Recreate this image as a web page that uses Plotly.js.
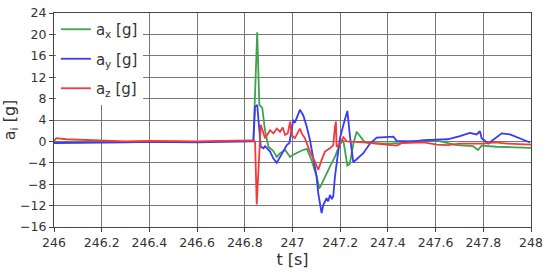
<!DOCTYPE html>
<html>
<head>
<meta charset="utf-8">
<script src="https://cdn.plot.ly/plotly-3.0.1.min.js"></script>
<style>
  html, body { margin: 0; padding: 0; background: #fff; }
  #chart { width: 550px; height: 276px; }
</style>
</head>
<body>
<div id="chart"></div>
<script>
// acceleration components, time in seconds
const tX = [246.0, 246.1, 246.2, 246.3, 246.4, 246.5, 246.6, 246.7, 246.8, 246.836, 246.852, 246.861, 246.873,
    246.885, 246.899, 246.920, 246.934, 246.948, 246.969, 246.990, 247.003, 247.024, 247.039, 247.060, 247.080,
    247.101, 247.112, 247.122, 247.136, 247.157, 247.178, 247.199, 247.213, 247.230, 247.240, 247.255, 247.269,
    247.285, 247.300, 247.325, 247.40, 247.45, 247.50, 247.577, 247.62, 247.688, 247.757, 247.778, 247.793,
    247.856, 247.95, 248.0];
const aX = [-0.2, -0.2, -0.1, -0.1, 0, -0.1, -0.1, 0, 0, 0.1, 20.4, 6.8, 6.3,
    2.0, -1.0, -1.8, -2.9, -2.2, -1.6, -2.9, -2.5, -2.0, -1.7, -1.4, -3.5,
    -6.5, -8.8, -8.0, -6.6, -4.7, -2.9, -0.5, 0.2, -4.5, -4.2, -0.5, 1.8,
    0.8, 0, -0.3, -0.4, -0.3, 0, 0.3, 0, -0.7, -0.9, -1.6, -0.8,
    -1.0, -1.1, -1.2];

const tY = [246.0, 246.1, 246.2, 246.3, 246.4, 246.5, 246.6, 246.7, 246.8, 246.836, 246.843, 246.852, 246.867,
    246.878, 246.885, 246.906, 246.920, 246.934, 246.948, 246.961, 246.976, 246.987, 246.997, 247.003, 247.010,
    247.024, 247.031, 247.045, 247.060, 247.073, 247.087, 247.101, 247.108, 247.122, 247.129, 247.143, 247.150,
    247.157, 247.165, 247.171, 247.178, 247.185, 247.192, 247.199, 247.213, 247.230, 247.242, 247.255, 247.297,
    247.325, 247.353, 247.423, 247.437, 247.50, 247.577, 247.65, 247.702, 247.744, 247.772, 247.786, 247.793,
    247.821, 247.842, 247.877, 247.912, 247.954, 247.996];
const aY = [-0.3, -0.3, -0.2, -0.2, -0.1, -0.2, -0.2, -0.1, -0.1, 0, 6.5, 6.8, -1.0,
    -1.3, -0.9, -1.9, -3.2, -4.0, -2.9, -1.9, -0.7, -0.3, 2.1, 4.0, 3.5,
    5.3, 5.9, 4.9, 2.7, 0.3, -2.9, -6.6, -9.7, -13.4, -11.9, -10.6, -11.2,
    -10.0, -10.8, -10.2, -6.6, -3.8, -1.0, 0.6, 3.0, 5.7, 0.5, -3.9, -2.2,
    -0.4, 0.7, 0.9, 0.1, 0, 0.3, 0.4, 1.0, 1.6, 1.3, 1.9, 0.6,
    -0.4, 0.3, 1.5, 1.3, 0.6, -0.2];

const tZ = [246.0, 246.01, 246.05, 246.1, 246.2, 246.3, 246.4, 246.5, 246.6, 246.7, 246.8, 246.836, 246.843,
    246.850, 246.867, 246.885, 246.906, 246.920, 246.934, 246.948, 246.959, 246.969, 246.980, 246.990, 246.997,
    247.010, 247.031, 247.039, 247.052, 247.073, 247.094, 247.108, 247.122, 247.136, 247.157, 247.171, 247.178,
    247.182, 247.185, 247.199, 247.213, 247.227, 247.297, 247.40, 247.437, 247.46, 247.55, 247.605, 247.65,
    247.70, 247.80, 247.85, 247.90, 248.0];
const aZ = [0.1, 0.6, 0.4, 0.3, 0.1, 0, 0.1, 0, 0, 0.1, 0.1, 0.2, 0,
    -11.8, 3.1, 0.6, 2.1, 1.5, 2.4, 1.8, 2.6, 1.2, 1.5, 3.7, 1.1,
    0.6, 2.4, 1.5, 0.6, -1.9, -3.8, -5.3, -3.5, -1.9, -1.3, -0.7, 2.7,
    3.7, -1.0, -0.5, 0.8, 0, -0.2, -0.6, -0.8, -0.3, -0.2, -0.6, -0.7,
    -0.4, -0.4, -0.2, -0.4, -0.6];

const seriesNames = ['a<sub>x</sub> [g]', 'a<sub>y</sub> [g]', 'a<sub>z</sub> [g]'];
const seriesColors = ['#3fa34d', '#3a3af2', '#f23a3a'];

const traces = [[tX, aX], [tY, aY], [tZ, aZ]].map((s, i) => ({
    x: s[0],
    y: s[1],
    mode: 'lines',
    name: seriesNames[i],
    legendgroup: 'g' + i,
    line: { color: seriesColors[i], width: 1.8 }
}));

const fontFam = 'DejaVu Sans, Verdana, sans-serif';
const axisFont = { family: fontFam, size: 12.5, color: '#333' };

Plotly.newPlot('chart', traces, {
    width: 550,
    height: 276,
    margin: { l: 54, r: 19, t: 13, b: 49 },
    paper_bgcolor: '#fff',
    plot_bgcolor: '#fff',
    font: axisFont,
    showlegend: true,
    legend: {
        x: 0.004, y: 1.0, xanchor: 'left', yanchor: 'top',
        bgcolor: '#fff',
        traceorder: 'grouped',
        tracegroupgap: 7,
        font: { family: fontFam, size: 15, color: '#333' }
    },
    xaxis: {
        range: [246, 248], dtick: 0.2, tick0: 246,
        showgrid: true, gridcolor: '#777', gridwidth: 1,
        zeroline: false, showline: true, linecolor: '#444', linewidth: 1, mirror: true,
        ticks: 'outside', ticklen: 4, tickcolor: '#444',
        tickfont: axisFont,
        title: { text: 't [s]', font: { family: fontFam, size: 16, color: '#333' }, standoff: 0 }
    },
    yaxis: {
        range: [-16, 24], dtick: 4, tick0: 0,
        showgrid: true, gridcolor: '#777', gridwidth: 1,
        zeroline: false, showline: true, linecolor: '#444', linewidth: 1, mirror: true,
        ticks: 'outside', ticklen: 4, tickcolor: '#444',
        tickfont: axisFont,
        title: { text: 'a<sub>i</sub> [g]', font: { family: fontFam, size: 16, color: '#333' }, standoff: 1 }
    }
}, { displayModeBar: false, staticPlot: true });
</script>
</body>
</html>
